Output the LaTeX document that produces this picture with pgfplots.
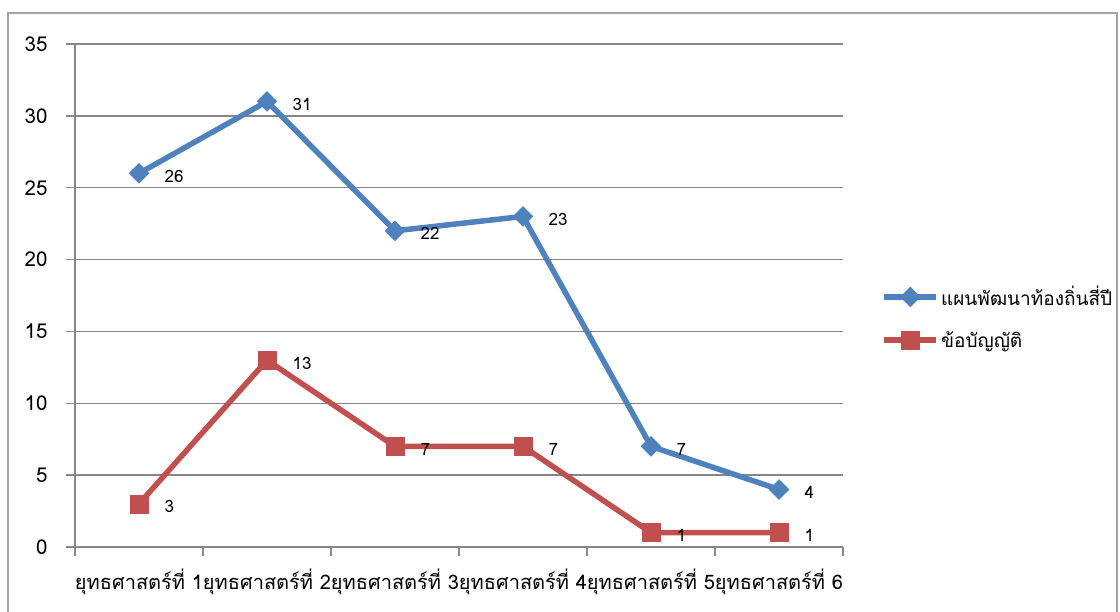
\documentclass[border=0pt]{standalone}
\usepackage{pgfplots}
\pgfplotsset{compat=1.18}
\usepackage{fontspec}
\setmainfont[Script=Thai]{Loma}
\definecolor{xlblue}{HTML}{4F81BD}
\definecolor{xlred}{HTML}{C0504D}
\definecolor{xlgrid}{HTML}{868686}
\begin{document}
\begin{tikzpicture}
\useasboundingbox (0,0) rectangle (1120pt,612pt);
\draw[color=xlgrid!75, line width=2pt] (8pt,-20pt) rectangle (1117pt,599pt);
\begin{axis}[
  at={(75pt,65pt)}, anchor=south west,
  scale only axis, width=768pt, height=503pt,
  xmin=-0.5, xmax=5.5, ymin=0, ymax=35,
  xtick={-0.5,0.5,...,5.5},
  x tick label as interval,
  xticklabels={ยุทธศาสตร์ที่ 1,ยุทธศาสตร์ที่ 2,ยุทธศาสตร์ที่ 3,ยุทธศาสตร์ที่ 4,ยุทธศาสตร์ที่ 5,ยุทธศาสตร์ที่ 6},
  ytick={0,5,...,35},
  axis x line*=bottom, axis y line*=left,
  axis line style={-, color=xlgrid, line width=1.5pt},
  tick style={color=xlgrid, line width=1.5pt},
  major tick length=9pt, tick align=outside,
  ymajorgrids, grid style={color=xlgrid, line width=1.5pt},
  /pgf/number format/assume math mode=true,
  yticklabel style={font=\fontsize{20.5}{24}\selectfont, xshift=-15pt},
  xticklabel style={font=\fontsize{20}{24}\selectfont, yshift=-9pt},
  legend style={draw=none, fill=none, at={(axis description cs:1.05,0.456)},
    anchor=west, inner sep=0pt, row sep=20pt, cells={anchor=west},
    font=\fontsize{19}{23}\selectfont},
  legend image code/.code={\draw[mark repeat=2,mark phase=2,#1] plot coordinates {(0pt,0pt) (26pt,0pt) (52pt,0pt)};},
  nodes near coords,
  every node near coord/.append style={black, anchor=west, xshift=22pt, yshift=-3pt, font=\fontsize{17}{20}\selectfont},
]
\addplot[color=xlblue, line width=5.5pt, mark=square*, mark size=7pt,
  mark options={rotate=45, line width=0.5pt, fill=xlblue}]
  coordinates {(0,26) (1,31) (2,22) (3,23) (4,7) (5,4)};
\addlegendentry{แผนพัฒนาท้องถิ่นสี่ปี}
\addplot[color=xlred, line width=5.5pt, mark=square*, mark size=9pt,
  mark options={line width=0.5pt, fill=xlred}]
  coordinates {(0,3) (1,13) (2,7) (3,7) (4,1) (5,1)};
\addlegendentry{ข้อบัญญัติ}
\end{axis}
\end{tikzpicture}
\end{document}
